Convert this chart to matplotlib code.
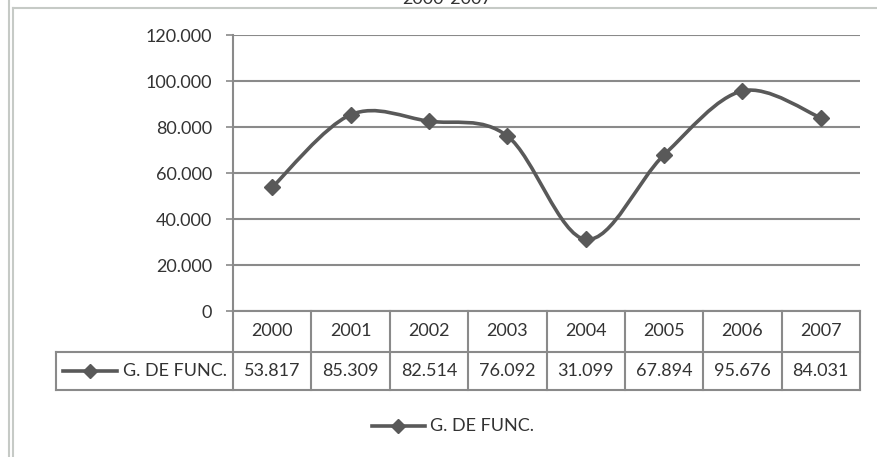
import matplotlib
matplotlib.use("Agg")
import matplotlib.pyplot as plt
from matplotlib.path import Path
from matplotlib.patches import PathPatch
from matplotlib.lines import Line2D
from matplotlib.transforms import blended_transform_factory
import numpy as np

years = ["2000", "2001", "2002", "2003", "2004", "2005", "2006", "2007"]
values = [53817, 85309, 82514, 76092, 31099, 67894, 95676, 84031]
series_name = "G. DE FUNC."
title = "2000-2007"
yticks = [0, 20000, 40000, 60000, 80000, 100000, 120000]

FONT = "Lato"
LINE = "#595959"
GRID = "#8a8a8a"
TXT = "#333333"
FS = 13

W, H = 877, 457
fig = plt.figure(figsize=(W / 100, H / 100), dpi=100)

def fx(px):
    return px / W

def fy(py):
    return 1 - py / H

# outer chart frame (partial, as in the crop)
fig.add_artist(Line2D([fx(9), fx(9)], [0, 1], color="#c6cac6", lw=1.5))
fig.add_artist(Line2D([fx(12.5), fx(12.5)], [0, fy(8)], color="#c6cac6", lw=1.5))
fig.add_artist(Line2D([fx(12.5), 1], [fy(8), fy(8)], color="#c6cac6", lw=1.5))

fig.text(fx(447), fy(4), title, ha="center", va="baseline", fontsize=FS,
         family=FONT, color=TXT)

ax = fig.add_axes([fx(233), fy(311), fx(860) - fx(233), fy(35) - fy(311)])
n = len(values)
x = np.arange(n)
ax.set_xlim(-0.5, n - 0.5)
ax.set_ylim(yticks[0], yticks[-1])
ax.set_yticks(yticks)
ax.set_yticklabels(["0" if v == 0 else f"{v:,}".replace(",", ".") for v in yticks],
                   fontsize=FS, family=FONT, color=TXT)
ax.tick_params(axis="y", length=5, width=1.2, color=GRID, pad=10)
ax.set_xticks([])
for s in ["top", "right", "bottom"]:
    ax.spines[s].set_visible(False)
ax.spines["left"].set_color(GRID)
ax.spines["left"].set_linewidth(1.5)
ax.grid(axis="y", color=GRID, lw=1.5)
ax.set_axisbelow(True)

# smoothed line (Catmull-Rom style bezier through the data points)
pts = np.column_stack([x, values]).astype(float)
verts = [tuple(pts[0])]
codes = [Path.MOVETO]
for i in range(n - 1):
    p0 = pts[i - 1] if i > 0 else pts[i]
    p1 = pts[i]
    p2 = pts[i + 1]
    p3 = pts[i + 2] if i + 2 < n else pts[i + 1]
    c1 = p1 + (p2 - p0) / 6
    c2 = p2 - (p3 - p1) / 6
    verts += [tuple(c1), tuple(c2), tuple(p2)]
    codes += [Path.CURVE4] * 3
ax.add_patch(PathPatch(Path(verts, codes), facecolor="none", edgecolor=LINE,
                       lw=2.6, capstyle="round", joinstyle="round", clip_on=False))
ax.plot(x, values, linestyle="none", marker="D", markersize=8.5, color=LINE,
        clip_on=False, zorder=5)

# data table
tr = blended_transform_factory(ax.transData, fig.transFigure)
colw = 1.0  # one category per column
lab_left = -0.5 - (233 - 56) / ((860 - 233) / n)
y0, y1, y2 = fy(311), fy(352), fy(390)
tcol = GRID
tlw = 1.5
# horizontal lines
ax.add_artist(Line2D([-0.5, n - 0.5], [y0, y0], transform=tr, color=tcol, lw=tlw, clip_on=False))
ax.add_artist(Line2D([lab_left, n - 0.5], [y1, y1], transform=tr, color=tcol, lw=tlw, clip_on=False))
ax.add_artist(Line2D([lab_left, n - 0.5], [y2, y2], transform=tr, color=tcol, lw=tlw, clip_on=False))
# vertical lines
for k in range(n + 1):
    xv = -0.5 + k
    ax.add_artist(Line2D([xv, xv], [y0, y2], transform=tr, color=tcol, lw=tlw, clip_on=False))
ax.add_artist(Line2D([lab_left, lab_left], [y1, y2], transform=tr, color=tcol, lw=tlw, clip_on=False))
for i in range(n):
    ax.text(x[i], (y0 + y1) / 2, years[i], transform=tr, ha="center", va="center",
            fontsize=FS, family=FONT, color=TXT)
    ax.text(x[i], (y1 + y2) / 2, f"{values[i]:,}".replace(",", "."), transform=tr,
            ha="center", va="center", fontsize=FS, family=FONT, color=TXT)

# legend key inside table
ym = (y1 + y2) / 2
fig.add_artist(Line2D([fx(63), fx(117)], [ym, ym], color=LINE, lw=2.6))
fig.add_artist(Line2D([fx(90)], [ym], color=LINE, marker="D", markersize=7, linestyle="none"))
fig.text(fx(123), ym, series_name, ha="left", va="center", fontsize=FS, family=FONT, color=TXT)

# bottom legend
yl = fy(426)
fig.add_artist(Line2D([fx(372), fx(425)], [yl, yl], color=LINE, lw=2.6))
fig.add_artist(Line2D([fx(398)], [yl], color=LINE, marker="D", markersize=7, linestyle="none"))
fig.text(fx(430), yl, series_name, ha="left", va="center", fontsize=FS, family=FONT, color=TXT)

fig.savefig("out.png", dpi=100)
